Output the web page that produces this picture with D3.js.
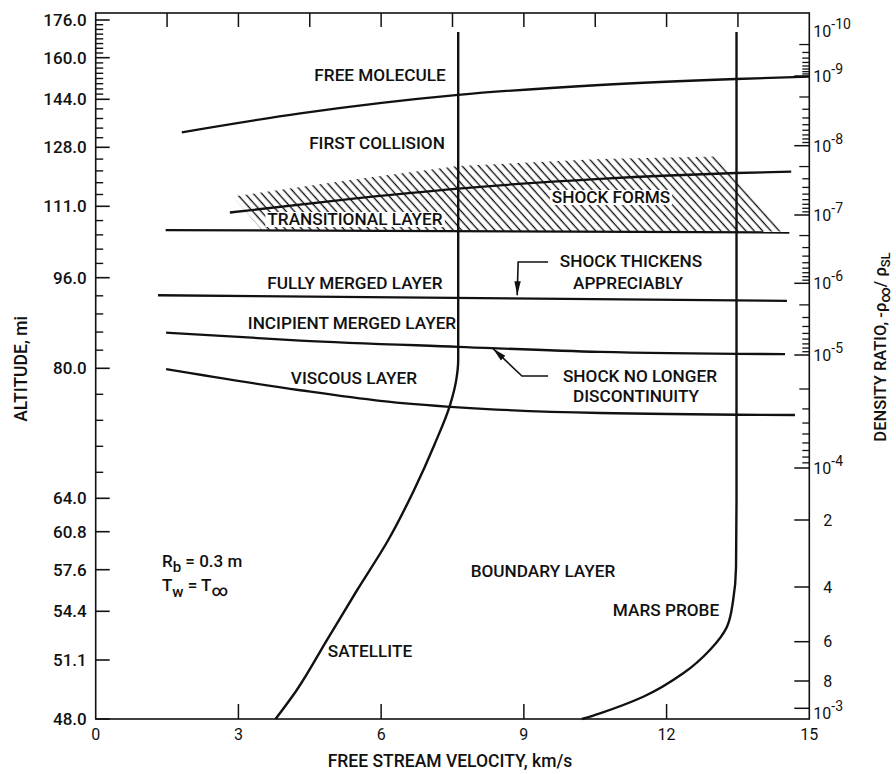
<!DOCTYPE html>
<html>
<head>
<meta charset="utf-8">
<script src="https://cdn.jsdelivr.net/npm/d3@7"></script>
<style>
  body { margin: 0; background: #fff; }
  text { font-family: Roboto, "DejaVu Sans", sans-serif; fill: #111; }
</style>
</head>
<body>
<svg id="chart" width="896" height="774"></svg>
<script>
// ---------------------------------------------------------------
// Data: flow regimes around a blunt body (Rb = 0.3 m, Tw = T_inf)
// ---------------------------------------------------------------

// Left axis: altitude (mi)
const altTicks = [48.0, 51.1, 54.4, 57.6, 60.8, 64.0, 80.0, 96.0, 111.0, 128.0, 144.0, 160.0, 176.0];
const altTickLabels = ["48.0", "51.1", "54.4", "57.6", "60.8", "64.0", "80.0", "96.0", "111.0", "128.0", "144.0", "160.0", "176.0"];
// minor subdivisions between successive altitude ticks
const altMinorDivs = [1, 1, 1, 1, 1, 5, 5, 5, 5, 5, 8, 8];

// Bottom axis: free stream velocity (km/s)
const velTicks = [0, 3, 6, 9, 12, 15];
const velTopTicks = [1.5, 3, 4.5, 6, 7.5, 9, 10.5, 12, 13.5];

// Right axis: density ratio rho_inf / rho_SL
const densityMajor = [1e-10, 1e-9, 1e-8, 1e-7, 1e-6, 1e-5, 1e-4, 1e-3];
const densityMajorExp = ["-10", "-9", "-8", "-7", "-6", "-5", "-4", "-3"];
const densityLower = [2e-4, 4e-4, 6e-4, 8e-4];
const densityLowerLabels = ["2", "4", "6", "8"];
const densityMinorDecades = [-10, -9, -8, -7, -6, -5];
const densityMinorMantissa = [2, 3, 4, 5, 6, 7, 8, 9];

// Regime boundaries (velocity km/s, altitude mi)
const freeMoleculeVel = [1.81, 4.30, 7.62, 10.60, 13.46, 15.0];
const freeMoleculeAlt = [133.0, 139.3, 145.7, 149.5, 151.8, 152.7];

const shockFormsVel = [2.82, 5.14, 7.62, 10.60, 13.46, 14.62];
const shockFormsAlt = [109.7, 112.8, 116.1, 118.9, 120.6, 121.0];

const transitionalVel = [1.47, 14.58];
const transitionalAlt = [106.0, 105.5];

const fullyMergedVel = [1.31, 14.53];
const fullyMergedAlt = [92.9, 91.9];

const incipientVel = [1.48, 4.30, 7.62, 10.60, 14.49];
const incipientAlt = [86.3, 84.9, 83.8, 82.9, 82.5];

const viscousVel = [1.48, 4.30, 5.98, 7.62, 10.60, 14.70];
const viscousAlt = [79.9, 77.3, 76.0, 75.2, 74.5, 74.25];

// Region where the shock forms (hatched)
const shockRegionVel = [2.88, 5.35, 7.62, 10.60, 13.08, 14.43, 3.50];
const shockRegionAlt = [113.8, 118.6, 122.6, 124.6, 125.35, 105.7, 105.9];

// Entry trajectories
const satelliteVel = [3.78, 4.22, 4.86, 5.49, 6.15, 6.69, 7.12, 7.45, 7.58, 7.62, 7.62];
const satelliteAlt = [48.0, 49.5, 52.45, 56.0, 60.1, 65.0, 70.6, 75.5, 78.6, 81.5, 170.9];

const marsVel = [10.22, 10.60, 11.51, 12.35, 12.91, 13.27, 13.40, 13.46, 13.47, 13.47];
const marsAlt = [48.0, 48.3, 49.17, 50.4, 51.78, 53.36, 55.27, 57.85, 63.84, 170.9];

// Pointer annotations: [velocity, altitude] vertices, arrow tip last
const thickensArrowVel = [9.51, 8.88, 8.86];
const thickensArrowAlt = [99.3, 99.3, 92.9];
const discontArrowVel = [9.51, 8.96, 8.35];
const discontArrowAlt = [79.05, 79.05, 83.5];

// ---------------------------------------------------------------
// Layout
// ---------------------------------------------------------------
const plot = { left: 95.7, right: 809.3, top: 13, bottom: 719 };

// altitude spacing on the chart is non-uniform: place each labelled altitude
const altTickOffset = [706, 647, 598.3, 556.7, 518.7, 485.3, 355.3, 264.7, 193.3, 134.3, 86.3, 44.7, 7];
// density decades likewise
const densityKnotOffset = [18, 63, 132.7, 202, 270.3, 342, 455, 507, 574, 628.7, 668, 695.3];

const svg = d3.select("#chart");
const ink = "#111";

const x = d3.scaleLinear().domain([0, 15]).range([plot.left, plot.right]);
const y = d3.scaleLinear()
  .domain(altTicks)
  .range(altTickOffset.map(d => plot.top + d));

const densityKnots = densityMajor.slice(0, 7).concat(densityLower, [1e-3]).map(Math.log10);
const yd = d3.scaleLinear()
  .domain(densityKnots)
  .range(densityKnotOffset.map(d => plot.top + d));

// ---------- hatch pattern ----------
const defs = svg.append("defs");
const pat = defs.append("pattern")
  .attr("id", "hatch")
  .attr("patternUnits", "userSpaceOnUse")
  .attr("width", 6.2).attr("height", 6.2)
  .attr("patternTransform", "rotate(-42)");
pat.append("line")
  .attr("x1", 3).attr("x2", 3).attr("y1", -1).attr("y2", 7.2)
  .attr("stroke", ink).attr("stroke-width", 1.35);

defs.append("marker")
  .attr("id", "tip")
  .attr("viewBox", "0 0 14 10")
  .attr("refX", 14).attr("refY", 5)
  .attr("markerWidth", 14).attr("markerHeight", 10)
  .attr("markerUnits", "userSpaceOnUse")
  .attr("orient", "auto")
  .append("path").attr("d", "M0,1.8 L14,5 L0,8.2 Z").attr("fill", ink);

const zip = (vs, as) => vs.map((v, i) => [v, as[i]]);

// shock-forming region
svg.append("path")
  .datum(zip(shockRegionVel, shockRegionAlt))
  .attr("d", d3.line().x(d => x(d[0])).y(d => y(d[1])).curve(d3.curveLinearClosed))
  .attr("fill", "url(#hatch)")
  .attr("stroke", "none");

// ---------- frame ----------
svg.append("rect")
  .attr("x", plot.left).attr("y", plot.top)
  .attr("width", plot.right - plot.left).attr("height", plot.bottom - plot.top)
  .attr("fill", "none").attr("stroke", ink).attr("stroke-width", 1.6);

// ---------- left axis ticks ----------
const leftAxis = svg.append("g");
altTicks.forEach((a, i) => {
  leftAxis.append("line")
    .attr("x1", plot.left).attr("x2", plot.left + 14)
    .attr("y1", y(a)).attr("y2", y(a))
    .attr("stroke", ink).attr("stroke-width", 1.6);
  leftAxis.append("text")
    .attr("x", plot.left - 9).attr("y", y(a)).attr("dy", "0.36em")
    .attr("text-anchor", "end")
    .attr("font-size", 17).attr("font-weight", 500)
    .text(altTickLabels[i]);
  if (i < altTicks.length - 1) {
    const n = altMinorDivs[i];
    for (let k = 1; k < n; k++) {
      const am = a + (altTicks[i + 1] - a) * k / n;
      leftAxis.append("line")
        .attr("x1", plot.left).attr("x2", plot.left + 7.5)
        .attr("y1", y(am)).attr("y2", y(am))
        .attr("stroke", ink).attr("stroke-width", 1.4);
    }
  }
});

// ---------- bottom / top ticks ----------
velTicks.forEach(v => {
  if (v > 0 && v < 15) {
    svg.append("line")
      .attr("x1", x(v)).attr("x2", x(v))
      .attr("y1", plot.bottom).attr("y2", plot.bottom - 15)
      .attr("stroke", ink).attr("stroke-width", 1.5);
  }
  svg.append("text")
    .attr("x", x(v)).attr("y", plot.bottom + 21)
    .attr("text-anchor", "middle")
    .attr("font-size", 16)
    .text(v);
});
velTopTicks.forEach(v => {
  svg.append("line")
    .attr("x1", x(v)).attr("x2", x(v))
    .attr("y1", plot.top).attr("y2", plot.top + 14)
    .attr("stroke", ink).attr("stroke-width", 1.5);
});

// ---------- right axis ----------
const rightAxis = svg.append("g");
densityMajor.forEach((d, i) => {
  const yy = yd(Math.log10(d));
  if (i > 0) {
    rightAxis.append("line")
      .attr("x1", plot.right - 15).attr("x2", plot.right)
      .attr("y1", yy).attr("y2", yy)
      .attr("stroke", ink).attr("stroke-width", 1.5);
  }
  const t = rightAxis.append("text")
    .attr("x", plot.right + 4).attr("y", yy + (i === 7 ? 11 : 6))
    .attr("font-size", 16);
  t.append("tspan").text("10");
  t.append("tspan").attr("dy", -8).attr("font-size", 14).text(densityMajorExp[i]);
});
densityLower.forEach((d, i) => {
  const yy = yd(Math.log10(d));
  rightAxis.append("line")
    .attr("x1", plot.right - 15).attr("x2", plot.right)
    .attr("y1", yy).attr("y2", yy)
    .attr("stroke", ink).attr("stroke-width", 1.5);
  rightAxis.append("text")
    .attr("x", plot.right + 14).attr("y", yy).attr("dy", "0.36em")
    .attr("font-size", 16)
    .text(densityLowerLabels[i]);
});
densityMinorDecades.forEach(e => {
  densityMinorMantissa.forEach(m => {
    const yy = yd(Math.log10(m) + e);
    rightAxis.append("line")
      .attr("x1", plot.right - (m === 2 ? 10 : 7)).attr("x2", plot.right)
      .attr("y1", yy).attr("y2", yy)
      .attr("stroke", ink).attr("stroke-width", 1.3);
  });
});

// ---------- boundaries ----------
const lineX = d3.line().x(d => x(d[0])).y(d => y(d[1])).curve(d3.curveMonotoneX);
const lineY = d3.line().x(d => x(d[0])).y(d => y(d[1])).curve(d3.curveMonotoneY);

[
  [freeMoleculeVel, freeMoleculeAlt],
  [shockFormsVel, shockFormsAlt],
  [transitionalVel, transitionalAlt],
  [fullyMergedVel, fullyMergedAlt],
  [incipientVel, incipientAlt],
  [viscousVel, viscousAlt]
].forEach(([vs, as]) => {
  svg.append("path")
    .datum(zip(vs, as))
    .attr("d", lineX)
    .attr("fill", "none").attr("stroke", ink).attr("stroke-width", 2.3);
});

[
  [satelliteVel, satelliteAlt],
  [marsVel, marsAlt]
].forEach(([vs, as]) => {
  svg.append("path")
    .datum(zip(vs, as).slice().reverse())
    .attr("d", lineY)
    .attr("fill", "none").attr("stroke", ink).attr("stroke-width", 2.4);
});

// ---------- annotation pointers ----------
[
  [thickensArrowVel, thickensArrowAlt],
  [discontArrowVel, discontArrowAlt]
].forEach(([vs, as]) => {
  svg.append("path")
    .datum(zip(vs, as))
    .attr("d", d3.line().x(d => x(d[0])).y(d => y(d[1])))
    .attr("fill", "none").attr("stroke", ink).attr("stroke-width", 1.6)
    .attr("marker-end", "url(#tip)");
});

// ---------- region labels ----------
const labels = [
  { t: "FREE MOLECULE", x: 380, y: 81, box: false },
  { t: "FIRST COLLISION", x: 377, y: 149, box: false },
  { t: "SHOCK FORMS", x: 611, y: 203, box: true },
  { t: "TRANSITIONAL LAYER", x: 355, y: 225, box: true },
  { t: "FULLY MERGED LAYER", x: 355, y: 289, box: false },
  { t: "SHOCK THICKENS", x: 631, y: 267, box: false },
  { t: "APPRECIABLY", x: 628, y: 289, box: false },
  { t: "INCIPIENT MERGED LAYER", x: 352, y: 329, box: false },
  { t: "VISCOUS LAYER", x: 354, y: 384, box: false },
  { t: "SHOCK NO LONGER", x: 640, y: 382, box: false },
  { t: "DISCONTINUITY", x: 636, y: 402, box: false },
  { t: "BOUNDARY LAYER", x: 543, y: 577, box: false },
  { t: "MARS PROBE", x: 666, y: 616, box: false },
  { t: "SATELLITE", x: 370, y: 657, box: false }
];
const labelLayer = svg.append("g");
labels.forEach(l => {
  const g = labelLayer.append("g");
  const t = g.append("text")
    .attr("x", l.x).attr("y", l.y)
    .attr("text-anchor", "middle")
    .attr("font-size", 17.2).attr("font-weight", 500)
    .text(l.t);
  if (l.box) {
    const b = t.node().getBBox();
    g.insert("rect", () => t.node())
      .attr("x", b.x - 2).attr("y", b.y + 3)
      .attr("width", b.width + 4).attr("height", b.height - 5)
      .attr("fill", "#fff");
  }
});

// body parameters
const rb = svg.append("text").attr("x", 162).attr("y", 567).attr("font-size", 17).attr("font-weight", 500);
rb.append("tspan").text("R");
rb.append("tspan").attr("dy", 5).attr("font-size", 15).text("b");
rb.append("tspan").attr("dy", -5).text(" = 0.3  m");
const tw = svg.append("text").attr("x", 162).attr("y", 591).attr("font-size", 17).attr("font-weight", 500);
tw.append("tspan").text("T");
tw.append("tspan").attr("dy", 6).attr("font-size", 15).text("w");
tw.append("tspan").attr("dy", -6).text(" = T");
tw.append("tspan").attr("dy", 5).attr("font-size", 16).text("\u221E");

// ---------- axis titles ----------
svg.append("text")
  .attr("x", 450).attr("y", 767)
  .attr("text-anchor", "middle").attr("font-size", 17.5).attr("font-weight", 500)
  .text("FREE STREAM VELOCITY,  km/s");

svg.append("text")
  .attr("transform", "translate(27,369) rotate(-90)")
  .attr("text-anchor", "middle").attr("font-size", 17.5).attr("font-weight", 500)
  .text("ALTITUDE,  mi");

const rt = svg.append("text")
  .attr("transform", "translate(886,347) rotate(-90)")
  .attr("text-anchor", "middle").attr("font-size", 16.5).attr("font-weight", 500);
rt.append("tspan").text("DENSITY RATIO, -\u03C1");
rt.append("tspan").attr("dy", 4).attr("font-size", 15).text("\u221E");
rt.append("tspan").attr("dy", -4).text("/ \u03C1");
rt.append("tspan").attr("dy", 4).attr("font-size", 13).text("SL");
</script>
</body>
</html>
